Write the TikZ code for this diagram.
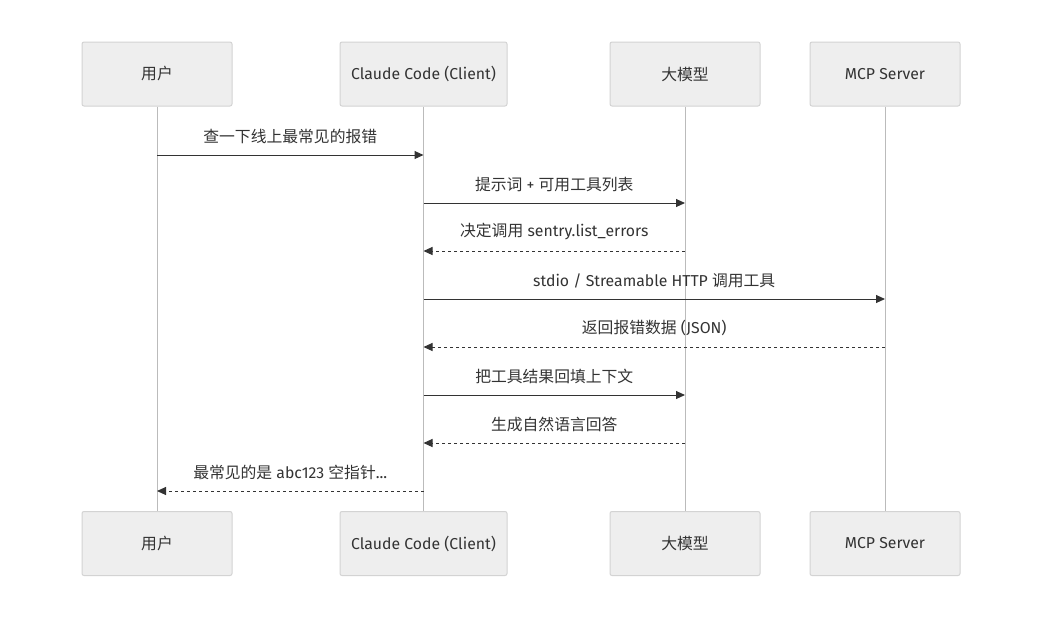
\documentclass[tikz,border=0pt]{standalone}
\usepackage{fontspec}
\setmainfont{Fira Sans}
\newfontfamily\cjk{Noto Sans CJK SC}
\usetikzlibrary{arrows.meta}
\definecolor{boxfill}{HTML}{EEEEEE}
\definecolor{boxline}{HTML}{D3D3D3}
\definecolor{life}{HTML}{BBBBBB}
\definecolor{ink}{HTML}{333333}
\begin{document}
\begin{tikzpicture}[x=1pt,y=-1pt,
  actor/.style={draw=boxline,fill=boxfill,rounded corners=2pt,line width=1pt,minimum height=64pt,text=ink,font=\fontsize{15.8}{18}\selectfont,inner sep=0pt},
  lifeline/.style={draw=life,line width=1pt},
  msg/.style={draw=ink,line width=1pt,-{Triangle[length=9pt,width=8pt]}},
  reply/.style={msg,dash pattern=on 3pt off 3pt},
  lbl/.style={text=ink,font=\fontsize{15.8}{18}\selectfont,above=7pt}]
\useasboundingbox (0,0) rectangle (1042,619);
\foreach \n/\x/\w/\t in {u/157/150/{\cjk 用户},c/423.5/167/{Claude Code (Client)},m/685/150/{\cjk 大模型},s/885/150/{MCP Server}}{
  \node[actor,minimum width=\w pt] (\n t) at (\x,74) {\t};
  \node[actor,minimum width=\w pt] (\n b) at (\x,543.5) {\t};
  \draw[lifeline] (\n t.south) -- (\n b.north);
}
\coordinate (u1) at (157,155); \coordinate (c1) at (423.5,155);
\coordinate (c2) at (423.5,203); \coordinate (m2) at (685,203);
\coordinate (c3) at (423.5,251); \coordinate (m3) at (685,251);
\coordinate (c4) at (423.5,299); \coordinate (s4) at (885,299);
\coordinate (c5) at (423.5,347); \coordinate (s5) at (885,347);
\coordinate (c6) at (423.5,395); \coordinate (m6) at (685,395);
\coordinate (c7) at (423.5,443); \coordinate (m7) at (685,443);
\coordinate (c8) at (423.5,491); \coordinate (u8) at (157,491);
\draw[msg] (u1) -- node[lbl]{\cjk 查一下线上最常见的报错} (c1);
\draw[msg] (c2) -- node[lbl]{{\cjk 提示词} + {\cjk 可用工具列表}} (m2);
\draw[reply] (m3) -- node[lbl]{{\cjk 决定调用} sentry.list\_errors} (c3);
\draw[msg] (c4) -- node[lbl]{stdio / Streamable HTTP {\cjk 调用工具}} (s4);
\draw[reply] (s5) -- node[lbl]{{\cjk 返回报错数据} (JSON)} (c5);
\draw[msg] (c6) -- node[lbl]{\cjk 把工具结果回填上下文} (m6);
\draw[reply] (m7) -- node[lbl]{\cjk 生成自然语言回答} (c7);
\draw[reply] (c8) -- node[lbl]{{\cjk 最常见的是} abc123 {\cjk 空指针}...} (u8);
\end{tikzpicture}
\end{document}
